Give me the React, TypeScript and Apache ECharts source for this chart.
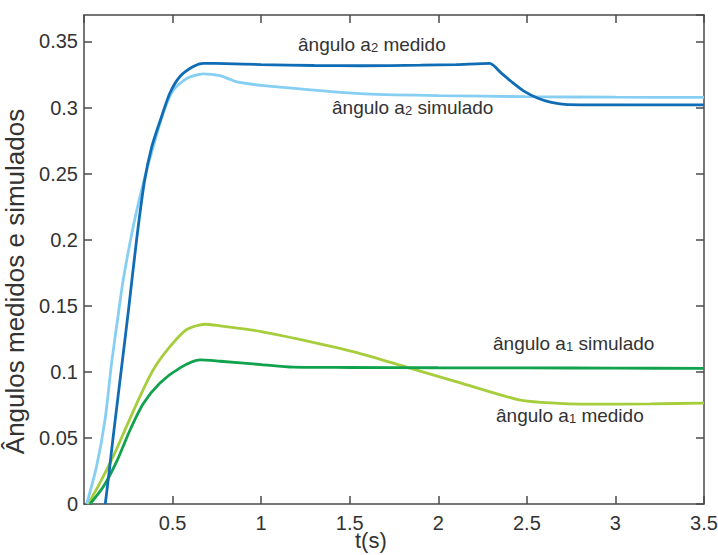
import React, { useEffect, useRef } from "react";
import * as echarts from "echarts";

// a2 medido (dark blue)
const tA2Med = [0.12, 0.14, 0.164, 0.209, 0.254, 0.297, 0.34, 0.382, 0.44, 0.485, 0.542, 0.617, 0.673, 0.8, 1.0, 1.3, 1.56, 1.9, 2.1, 2.29, 2.356, 2.412, 2.488, 2.563, 2.638, 2.73, 3.0, 3.5];
const vA2Med = [0, 0.022, 0.05, 0.1, 0.15, 0.2, 0.243, 0.27, 0.294, 0.311, 0.3235, 0.331, 0.3334, 0.3332, 0.3325, 0.3318, 0.3316, 0.332, 0.3325, 0.3334, 0.326, 0.3197, 0.312, 0.307, 0.3038, 0.3022, 0.302, 0.302];

// a2 simulado (light blue)
const tA2Sim = [0.015, 0.071, 0.119, 0.156, 0.194, 0.222, 0.278, 0.335, 0.391, 0.448, 0.504, 0.58, 0.673, 0.768, 0.82, 0.87, 1.03, 1.56, 2.0, 2.49, 3.0, 3.5];
const vA2Sim = [0, 0.0285, 0.064, 0.107, 0.144, 0.17, 0.21, 0.243, 0.2705, 0.296, 0.313, 0.322, 0.3255, 0.3242, 0.3215, 0.3192, 0.3164, 0.3105, 0.309, 0.3082, 0.3078, 0.3076];

// a1 medido (yellow-green)
const tA1Med = [0.024, 0.09, 0.165, 0.24, 0.316, 0.391, 0.485, 0.58, 0.683, 0.768, 0.9, 1.0, 1.18, 1.55, 1.83, 2.11, 2.45, 2.58, 2.86, 3.2, 3.5];
const vA1Med = [0, 0.016, 0.036, 0.0587, 0.0814, 0.1016, 0.119, 0.132, 0.136, 0.1348, 0.1325, 0.1305, 0.1256, 0.1142, 0.1032, 0.0922, 0.0789, 0.0769, 0.0755, 0.0758, 0.0764];

// a1 simulado (green)
const tA1Sim = [0.034, 0.109, 0.184, 0.26, 0.335, 0.429, 0.542, 0.655, 0.768, 1.0, 1.18, 1.5, 2.0, 2.5, 3.0, 3.5];
const vA1Sim = [0, 0.013, 0.032, 0.056, 0.076, 0.0915, 0.103, 0.109, 0.108, 0.1055, 0.1035, 0.1033, 0.1031, 0.103, 0.1028, 0.1026];

const xTicks = [0, 0.5, 1, 1.5, 2, 2.5, 3, 3.5];
const yTicks = [0, 0.05, 0.1, 0.15, 0.2, 0.25, 0.3, 0.35];

const FONT = "'Liberation Sans', Arial, Helvetica, sans-serif";
const AXIS_COLOR = "#4a4a4a";
const TEXT_COLOR = "#333333";

const pairs = (t: number[], v: number[]) => t.map((x, i) => [x, v[i]]);

const richStyle = {
  n: { fontSize: 19, fontFamily: FONT, color: TEXT_COLOR, verticalAlign: "bottom", lineHeight: 22 },
  s: { fontSize: 13, fontFamily: FONT, color: TEXT_COLOR, verticalAlign: "bottom", lineHeight: 4 },
};

const annotations = [
  { text: "{n|ângulo a}{s|2}{n| medido}", left: 298, top: 35 },
  { text: "{n|ângulo a}{s|2}{n| simulado}", left: 332, top: 98 },
  { text: "{n|ângulo a}{s|1}{n| simulado}", left: 493, top: 334 },
  { text: "{n|ângulo a}{s|1}{n| medido}", left: 496, top: 406 },
];

export default function App() {
  const ref = useRef<HTMLDivElement>(null);
  useEffect(() => {
    if (!ref.current) return;
    const chart = echarts.init(ref.current, undefined, { renderer: "svg" });
    const axisLine = { show: true, onZero: false, lineStyle: { color: AXIS_COLOR, width: 1.5 } };
    const tick = { show: true, inside: true, length: 8, lineStyle: { color: AXIS_COLOR, width: 1.5 } };
    const line = (name: string, data: number[][], color: string) => ({
      name,
      type: "line",
      data,
      xAxisIndex: 0,
      yAxisIndex: 0,
      symbol: "none",
      smooth: 0.25,
      lineStyle: { color, width: 2.8 },
      z: 3,
    });
    chart.setOption({
      animation: false,
      backgroundColor: "#ffffff",
      grid: { left: 84, right: 14, top: 15, bottom: 51, outerBoundsMode: "none", containLabel: false },
      xAxis: [
        {
          type: "value",
          position: "bottom",
          min: xTicks[0],
          max: xTicks[xTicks.length - 1],
          interval: 0.5,
          axisLine,
          axisTick: tick,
          splitLine: { show: false },
          axisLabel: {
            showMinLabel: false,
            margin: 9,
            fontSize: 20,
            fontFamily: FONT,
            color: TEXT_COLOR,
            formatter: (v: number) => String(v),
          },
        },
        {
          type: "value",
          position: "top",
          min: xTicks[0],
          max: xTicks[xTicks.length - 1],
          interval: 0.5,
          axisLine,
          axisTick: tick,
          axisLabel: { show: false },
          splitLine: { show: false },
        },
      ],
      yAxis: [
        {
          type: "value",
          position: "left",
          min: yTicks[0],
          max: 0.37,
          interval: 0.05,
          axisLine,
          axisTick: tick,
          splitLine: { show: false },
          axisLabel: {
            showMaxLabel: false,
            margin: 6,
            fontSize: 20,
            fontFamily: FONT,
            color: TEXT_COLOR,
            formatter: (v: number) => {
              const hit = yTicks.find((t) => Math.abs(t - v) < 1e-9);
              return hit === undefined ? "" : String(hit);
            },
          },
          name: "Ângulos medidos e simulados",
          nameLocation: "middle",
          nameGap: 50,
          nameTextStyle: { fontSize: 26, fontFamily: FONT, color: TEXT_COLOR, padding: [0, 44, 0, 0] },
        },
        {
          type: "value",
          position: "right",
          min: yTicks[0],
          max: 0.37,
          interval: 0.05,
          axisLine,
          axisTick: tick,
          axisLabel: { show: false },
          splitLine: { show: false },
        },
      ],
      series: [
        line("ângulo a1 medido", pairs(tA1Med, vA1Med), "#a6cd3c"),
        line("ângulo a1 simulado", pairs(tA1Sim, vA1Sim), "#10a24c"),
        line("ângulo a2 simulado", pairs(tA2Sim, vA2Sim), "#86cff3"),
        line("ângulo a2 medido", pairs(tA2Med, vA2Med), "#106db5"),
      ],
      graphic: [
        ...annotations.map((a) => ({
          type: "text",
          left: a.left,
          top: a.top,
          z: 10,
          style: { text: a.text, rich: richStyle, fill: TEXT_COLOR },
        })),
        {
          type: "text",
          left: 355,
          top: 529,
          z: 10,
          style: { text: "t(s)", fontSize: 22, fontFamily: FONT, fill: TEXT_COLOR },
        },
      ],
    });
    return () => chart.dispose();
  }, []);
  return (
    <div
      ref={ref}
      style={{ position: "fixed", left: 0, top: 0, width: 718, height: 555, background: "#fff" }}
    />
  );
}
